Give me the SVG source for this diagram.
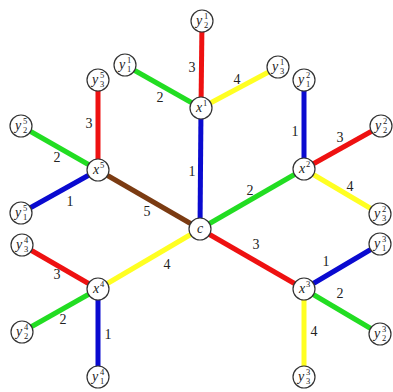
<svg xmlns="http://www.w3.org/2000/svg" width="393" height="392" viewBox="0 0 393 392">
<style>
.e{stroke-width:5;stroke-linecap:butt;fill:none}
.r{stroke:#ee1111}.g{stroke:#22dd22}.b{stroke:#0a0ad0}.yl{stroke:#ffff22}.br{stroke:#7b3b12}
circle{fill:#fff;stroke:#333;stroke-width:1.2}
text{font-family:"Liberation Serif","DejaVu Serif",serif;fill:#222}
.v{font-size:14px;font-style:italic;text-anchor:middle}
.s{font-size:8.5px;text-anchor:middle}
.l{font-size:14px;text-anchor:middle}
</style>
<rect width="393" height="392" fill="#fff"/>
<g id="connectors">
<line class="e b" x1="200" y1="229" x2="201" y2="108"/>
<line class="e g" x1="200" y1="229" x2="304" y2="169"/>
<line class="e r" x1="200" y1="229" x2="304" y2="289"/>
<line class="e yl" x1="200" y1="229" x2="98" y2="289"/>
<line class="e br" x1="200" y1="229" x2="98" y2="170"/>
<line class="e g" x1="201" y1="108" x2="125" y2="65"/>
<line class="e r" x1="201" y1="108" x2="202" y2="21"/>
<line class="e yl" x1="201" y1="108" x2="278" y2="67"/>
<line class="e b" x1="304" y1="169" x2="304" y2="80"/>
<line class="e r" x1="304" y1="169" x2="381" y2="126"/>
<line class="e yl" x1="304" y1="169" x2="380" y2="214"/>
<line class="e b" x1="304" y1="289" x2="380" y2="244"/>
<line class="e g" x1="304" y1="289" x2="380" y2="334"/>
<line class="e yl" x1="304" y1="289" x2="304" y2="377"/>
<line class="e b" x1="98" y1="289" x2="98" y2="377"/>
<line class="e g" x1="98" y1="289" x2="22" y2="332"/>
<line class="e r" x1="98" y1="289" x2="22" y2="245"/>
<line class="e b" x1="98" y1="170" x2="21" y2="213"/>
<line class="e g" x1="98" y1="170" x2="21" y2="126"/>
<line class="e r" x1="98" y1="170" x2="98" y2="80"/>
</g>
<g id="edge-labels">
<text class="l" x="192" y="72">3</text>
<text class="l" x="160" y="102">2</text>
<text class="l" x="237" y="84">4</text>
<text class="l" x="192" y="176">1</text>
<text class="l" x="89" y="128">3</text>
<text class="l" x="57" y="162">2</text>
<text class="l" x="70" y="206">1</text>
<text class="l" x="147" y="216">5</text>
<text class="l" x="295" y="136">1</text>
<text class="l" x="340" y="142">3</text>
<text class="l" x="350" y="191">4</text>
<text class="l" x="250" y="195">2</text>
<text class="l" x="256" y="249">3</text>
<text class="l" x="326" y="266">1</text>
<text class="l" x="340" y="298">2</text>
<text class="l" x="314" y="336">4</text>
<text class="l" x="167" y="269">4</text>
<text class="l" x="57" y="279">3</text>
<text class="l" x="63" y="324">2</text>
<text class="l" x="108" y="339">1</text>
</g>
<g id="c"><circle cx="200" cy="229" r="11"/><text class="v" x="200" y="233">c</text></g>
<g id="x1"><circle cx="201" cy="108" r="11"/><text class="v" x="199" y="112">x</text><text class="s" x="205" y="106">1</text></g>
<g id="x2"><circle cx="304" cy="169" r="11"/><text class="v" x="302" y="173">x</text><text class="s" x="308" y="167">2</text></g>
<g id="x3"><circle cx="304" cy="289" r="11"/><text class="v" x="302" y="293">x</text><text class="s" x="308" y="287">3</text></g>
<g id="x4"><circle cx="98" cy="289" r="11"/><text class="v" x="96" y="293">x</text><text class="s" x="102" y="287">4</text></g>
<g id="x5"><circle cx="98" cy="170" r="11"/><text class="v" x="96" y="174">x</text><text class="s" x="102" y="168">5</text></g>
<g id="y1-1"><circle cx="125" cy="65" r="11"/><text class="v" x="122" y="69">y</text><text class="s" x="129" y="63">1</text><text class="s" x="129" y="72">1</text></g>
<g id="y2-1"><circle cx="202" cy="21" r="11"/><text class="v" x="199" y="25">y</text><text class="s" x="206" y="19">1</text><text class="s" x="206" y="28">2</text></g>
<g id="y3-1"><circle cx="278" cy="67" r="11"/><text class="v" x="275" y="71">y</text><text class="s" x="282" y="65">1</text><text class="s" x="282" y="74">3</text></g>
<g id="y1-2"><circle cx="304" cy="80" r="11"/><text class="v" x="301" y="84">y</text><text class="s" x="308" y="78">2</text><text class="s" x="308" y="87">1</text></g>
<g id="y2-2"><circle cx="381" cy="126" r="11"/><text class="v" x="378" y="130">y</text><text class="s" x="385" y="124">2</text><text class="s" x="385" y="133">2</text></g>
<g id="y3-2"><circle cx="380" cy="214" r="11"/><text class="v" x="377" y="218">y</text><text class="s" x="384" y="212">2</text><text class="s" x="384" y="221">3</text></g>
<g id="y1-3"><circle cx="380" cy="244" r="11"/><text class="v" x="377" y="248">y</text><text class="s" x="384" y="242">3</text><text class="s" x="384" y="251">1</text></g>
<g id="y2-3"><circle cx="380" cy="334" r="11"/><text class="v" x="377" y="338">y</text><text class="s" x="384" y="332">3</text><text class="s" x="384" y="341">2</text></g>
<g id="y3-3"><circle cx="304" cy="377" r="11"/><text class="v" x="301" y="381">y</text><text class="s" x="308" y="375">3</text><text class="s" x="308" y="384">3</text></g>
<g id="y1-4"><circle cx="98" cy="377" r="11"/><text class="v" x="95" y="381">y</text><text class="s" x="102" y="375">4</text><text class="s" x="102" y="384">1</text></g>
<g id="y2-4"><circle cx="22" cy="332" r="11"/><text class="v" x="19" y="336">y</text><text class="s" x="26" y="330">4</text><text class="s" x="26" y="339">2</text></g>
<g id="y3-4"><circle cx="22" cy="245" r="11"/><text class="v" x="19" y="249">y</text><text class="s" x="26" y="243">4</text><text class="s" x="26" y="252">3</text></g>
<g id="y1-5"><circle cx="21" cy="213" r="11"/><text class="v" x="18" y="217">y</text><text class="s" x="25" y="211">5</text><text class="s" x="25" y="220">1</text></g>
<g id="y2-5"><circle cx="21" cy="126" r="11"/><text class="v" x="18" y="130">y</text><text class="s" x="25" y="124">5</text><text class="s" x="25" y="133">2</text></g>
<g id="y3-5"><circle cx="98" cy="80" r="11"/><text class="v" x="95" y="84">y</text><text class="s" x="102" y="78">5</text><text class="s" x="102" y="87">3</text></g>
</svg>
